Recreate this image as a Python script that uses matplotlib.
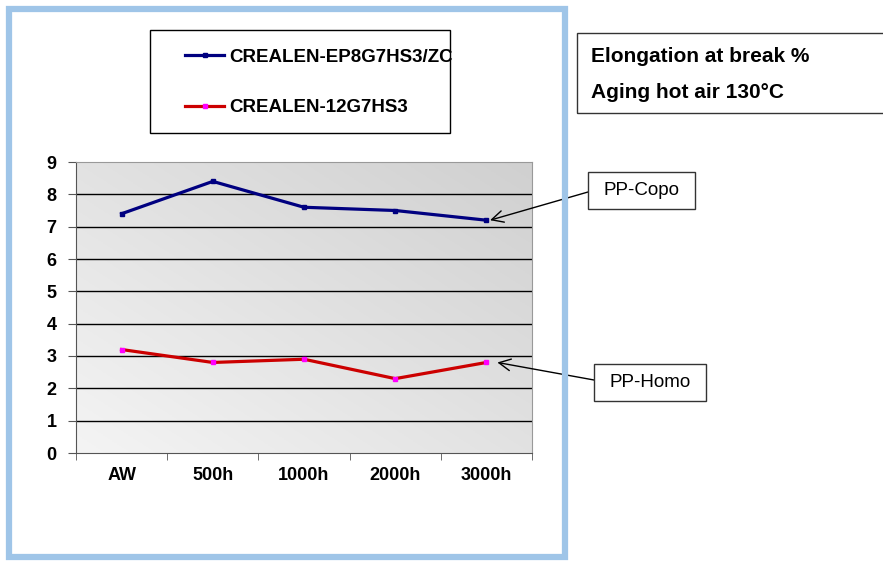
import numpy as np
import matplotlib.pyplot as plt
from matplotlib.patches import Rectangle
from matplotlib.lines import Line2D
from matplotlib.colors import LinearSegmentedColormap

plt.rcParams['font.family'] = ['Liberation Sans', 'DejaVu Sans']

# Data
categories = ['AW', '500h', '1000h', '2000h', '3000h']
copo = [7.4, 8.4, 7.6, 7.5, 7.2]
homo = [3.2, 2.8, 2.9, 2.3, 2.8]
copo_name = 'CREALEN-EP8G7HS3/ZC'
homo_name = 'CREALEN-12G7HS3'

W, H = 883, 562
fig = plt.figure(figsize=(W / 100, H / 100), dpi=100)

def fx(px):
    return px / W

def fy(py):
    return 1 - py / H

def box(x0, y0, x1, y1, color='#333333', lw=1.0):
    fig.patches.append(Rectangle((fx(x0), fy(y1)), fx(x1) - fx(x0), fy(y0) - fy(y1),
                                 transform=fig.transFigure, fill=False,
                                 edgecolor=color, linewidth=lw))

# light blue outer frame
box(9, 9, 565, 557, color='#9fc5e8', lw=4.5)

ax = fig.add_axes([fx(76), fy(453), fx(532) - fx(76), fy(162) - fy(453)])

x = np.arange(len(categories))
ax.set_xlim(-0.5, len(categories) - 0.5)
ax.set_ylim(0, 9)

# gradient background
grad = np.linspace(0, 1, 200)
gx, gy = np.meshgrid(grad, grad)
bg = LinearSegmentedColormap.from_list('bg', ['#f4f4f4', '#d0d0d0'])
ax.imshow((gx + gy) / 2, cmap=bg, origin='lower', aspect='auto',
          extent=[-0.5, len(categories) - 0.5, 0, 9], zorder=0)

for v in range(1, 9):
    ax.axhline(v, color='black', linewidth=1.0, zorder=1)

ax.plot(x, copo, color='#000080', linewidth=2.3, marker='s', markersize=3,
        markerfacecolor='#000080', markeredgecolor='#000080', zorder=3)
ax.plot(x, homo, color='#cc0000', linewidth=2.3, marker='s', markersize=3.5,
        markerfacecolor='#ff00ff', markeredgecolor='#ff00ff', zorder=3)

for s in ['top', 'right']:
    ax.spines[s].set_color('#999999')
for s in ['left', 'bottom']:
    ax.spines[s].set_color('#555555')

ax.set_yticks(range(0, 10))
ax.set_yticklabels([str(v) for v in range(0, 10)], fontsize=13, fontweight='bold')
ax.set_xticks(x)
ax.set_xticklabels(categories, fontsize=13, fontweight='bold')
ax.tick_params(axis='x', length=0, pad=10)
ax.set_xticks(np.arange(-0.5, len(categories), 1), minor=True)
ax.tick_params(axis='x', which='minor', length=5, color='#555555')
ax.tick_params(axis='y', length=6, color='#555555', pad=8)

# legend
box(150, 30, 450, 133, color='black')
handles = [Line2D([], [], color='#000080', linewidth=2.3, marker='s', markersize=3,
                  markerfacecolor='#000080', markeredgecolor='#000080'),
           Line2D([], [], color='#cc0000', linewidth=2.3, marker='s', markersize=3.5,
                  markerfacecolor='#ff00ff', markeredgecolor='#ff00ff')]
fig.legend(handles, [copo_name, homo_name], loc='center left',
           bbox_to_anchor=(fx(185), fy(82.5)), frameon=False,
           prop={'weight': 'bold', 'size': 13.5},
           handlelength=2.1, handletextpad=0.25, labelspacing=1.8,
           borderpad=0, borderaxespad=0)

# title box
box(577, 33, 890, 113)
fig.text(fx(591), fy(57), 'Elongation at break %', fontsize=15, fontweight='bold',
         va='center', ha='left')
fig.text(fx(591), fy(93), 'Aging hot air 130°C', fontsize=15, fontweight='bold',
         va='center', ha='left')

# callouts
arrow = dict(arrowstyle='->,head_length=0.6,head_width=0.3', mutation_scale=14,
             color='black', linewidth=1.0, shrinkA=0, shrinkB=0)
box(588, 172, 695, 209)
fig.text(fx(641.5), fy(190.5), 'PP-Copo', fontsize=13.5, ha='center', va='center')
ax.annotate('', xy=(4.04, 7.2), xycoords='data',
            xytext=(fx(588), fy(192)), textcoords='figure fraction', arrowprops=arrow)
box(594, 364, 706, 401)
fig.text(fx(650), fy(382.5), 'PP-Homo', fontsize=13.5, ha='center', va='center')
ax.annotate('', xy=(4.12, 2.8), xycoords='data',
            xytext=(fx(594), fy(380)), textcoords='figure fraction', arrowprops=arrow)

fig.savefig('out.png', dpi=100)
